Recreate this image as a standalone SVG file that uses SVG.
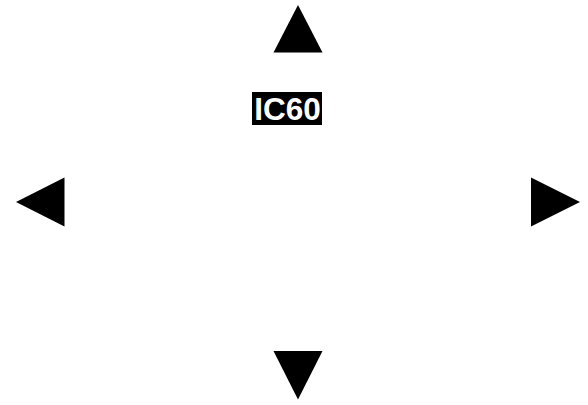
<svg xmlns="http://www.w3.org/2000/svg" width="588" height="405" viewBox="0 0 588 405">
<style>
.arrow{fill:#000;stroke:none}
.lbl{font-family:"Liberation Sans",Arial,sans-serif;font-weight:bold;font-size:31.5px;fill:#fff}
</style>
<rect width="588" height="405" fill="#fff"/>
<g id="connectors">
<polygon id="up" class="arrow" points="298,5 273.5,52.5 322.5,52.5"/>
<polygon id="down" class="arrow" points="273.5,351 322.5,351 298,399.5"/>
<polygon id="left" class="arrow" points="16,202 64.5,177.5 64.5,226.5"/>
<polygon id="right" class="arrow" points="531,177.5 531,226.5 580,202"/>
</g>
<g id="node-IC60">
<rect x="252" y="92" width="70" height="33" fill="#000"/>
<text class="lbl" x="287.5" y="119.5" text-anchor="middle">IC60</text>
</g>
</svg>
